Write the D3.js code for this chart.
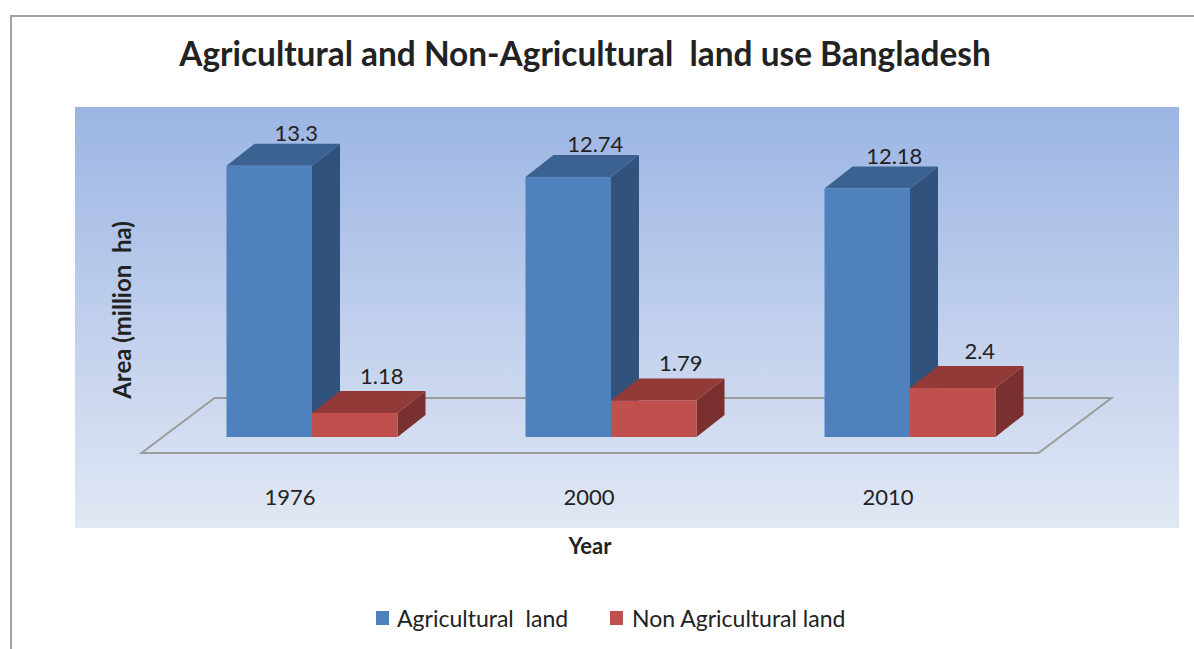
<!DOCTYPE html>
<html>
<head>
<meta charset="utf-8">
<script src="https://cdn.jsdelivr.net/npm/d3@7"></script>
<style>
  html, body { margin: 0; padding: 0; background: #ffffff; }
  svg { display: block; }
  text { font-family: Lato, "Open Sans", sans-serif; fill: #222222; white-space: pre; }
</style>
</head>
<body>
<svg id="chart" width="1194" height="649"></svg>
<script>
// Land use in Bangladesh, million hectares
const years = ["1976", "2000", "2010"];
const seriesNames = ["Agricultural  land", "Non Agricultural land"];
const agricultural = [13.3, 12.74, 12.18];
const nonAgricultural = [1.18, 1.79, 2.4];
const seriesValues = [agricultural, nonAgricultural];

const titleText = "Agricultural and Non-Agricultural  land use Bangladesh";
const xTitle = "Year";
const yTitle = "Area (million  ha)";

// Face colours per series: front, top, side
const palette = [
  { front: "#4f81bd", top: "#3b6290", side: "#30527c" },
  { front: "#c0504d", top: "#923a37", side: "#7a302e" }
];

const svg = d3.select("#chart");
const W = 1194, H = 649;

// Outer chart frame (top and left edges visible)
svg.append("path")
  .attr("d", `M11,${H} L11,16 L${W},16`)
  .attr("fill", "none")
  .attr("stroke", "#a3a3a3")
  .attr("stroke-width", 2);

// Plot area with vertical gradient
const defs = svg.append("defs");
const grad = defs.append("linearGradient")
  .attr("id", "plotBg").attr("x1", 0).attr("y1", 0).attr("x2", 0).attr("y2", 1);
grad.append("stop").attr("offset", "0%").attr("stop-color", "#9bb5e3");
grad.append("stop").attr("offset", "55%").attr("stop-color", "#c3d1ed");
grad.append("stop").attr("offset", "100%").attr("stop-color", "#e1e8f5");

const plot = { left: 75, top: 107, right: 1179, bottom: 528 };
svg.append("rect")
  .attr("x", plot.left).attr("y", plot.top)
  .attr("width", plot.right - plot.left).attr("height", plot.bottom - plot.top)
  .attr("fill", "url(#plotBg)");

// Scales
const baseY = 437;        // bottom of the bars' front faces
const depth = { dx: 28, dy: -22 };   // 3D extrusion of each bar
const x = d3.scaleBand().domain(years).range([162.5, 1059.5]).padding(0);
const xs = d3.scaleBand().domain(seriesNames).range([-85.5, 85.5]).padding(0);
const y = d3.scaleLinear().domain([0, 14]).range([baseY, baseY - 14 * 20.4]);

// Floor (parallelogram around the bar row)
const floorFront = baseY + 16, floorBack = baseY + depth.dy - 17;
const fx0 = x.range()[0], fx1 = x.range()[1];
const fShift = 21, bShift = fShift - 73;
const floorPts = [
  [fx0 - fShift, floorFront], [fx1 - fShift, floorFront],
  [fx1 - bShift, floorBack], [fx0 - bShift, floorBack]
];
svg.append("path")
  .attr("d", d3.line()(floorPts) + "Z")
  .attr("fill", "none")
  .attr("stroke", "#9c9c9c")
  .attr("stroke-width", 2)
  .attr("stroke-linejoin", "miter");

// Bars
const bars = svg.append("g");
const labels = [];
years.forEach((yr, i) => {
  const cx = x(yr) + x.bandwidth() / 2;
  seriesNames.forEach((s, j) => {
    const v = seriesValues[j][i];
    const x0 = cx + xs(s), x1 = x0 + xs.bandwidth();
    const yt = y(v), yb = y(0);
    const dx = depth.dx, dy = depth.dy;
    const c = palette[j];
    const g = bars.append("g");
    // side face
    g.append("path")
      .attr("d", `M${x1},${yb} L${x1 + dx},${yb + dy} L${x1 + dx},${yt + dy} L${x1},${yt} Z`)
      .attr("fill", c.side);
    // top face
    g.append("path")
      .attr("d", `M${x0},${yt} L${x0 + dx},${yt + dy} L${x1 + dx},${yt + dy} L${x1},${yt} Z`)
      .attr("fill", c.top);
    // front face
    g.append("rect")
      .attr("x", x0).attr("y", yt)
      .attr("width", x1 - x0).attr("height", yb - yt)
      .attr("fill", c.front);
    labels.push({ v, x: (x0 + x1) / 2 + 27, y: yt - (j === 0 ? 25 : 29) });
  });
});

// Value labels
svg.append("g").selectAll("text").data(labels).join("text")
  .attr("x", d => d.x)
  .attr("y", d => d.y)
  .attr("text-anchor", "middle")
  .attr("font-size", 22)
  .text(d => d.v);

// Category labels
svg.append("g").selectAll("text").data(years).join("text")
  .attr("x", d => x(d) + x.bandwidth() / 2 - 22)
  .attr("y", 505)
  .attr("text-anchor", "middle")
  .attr("font-size", 22)
  .text(d => d);

// Axis titles
svg.append("text")
  .attr("x", 590).attr("y", 554)
  .attr("text-anchor", "middle")
  .attr("font-size", 22).attr("font-weight", "bold")
  .text(xTitle);

svg.append("text")
  .attr("transform", "translate(131,310) rotate(-90)")
  .attr("text-anchor", "middle")
  .attr("font-size", 24).attr("font-weight", "bold")
  .text(yTitle);

// Title
svg.append("text")
  .attr("x", 585).attr("y", 66)
  .attr("text-anchor", "middle")
  .attr("font-size", 33.4).attr("font-weight", "bold")
  .text(titleText);

// Legend
const legendItems = [
  { name: seriesNames[0], color: palette[0].front, sx: 376, tx: 397 },
  { name: seriesNames[1], color: palette[1].front, sx: 610, tx: 632 }
];
const lg = svg.append("g");
legendItems.forEach(it => {
  lg.append("rect").attr("x", it.sx).attr("y", 611).attr("width", 13).attr("height", 14).attr("fill", it.color);
  lg.append("text").attr("x", it.tx).attr("y", 627).attr("font-size", 23).text(it.name);
});
</script>
</body>
</html>
